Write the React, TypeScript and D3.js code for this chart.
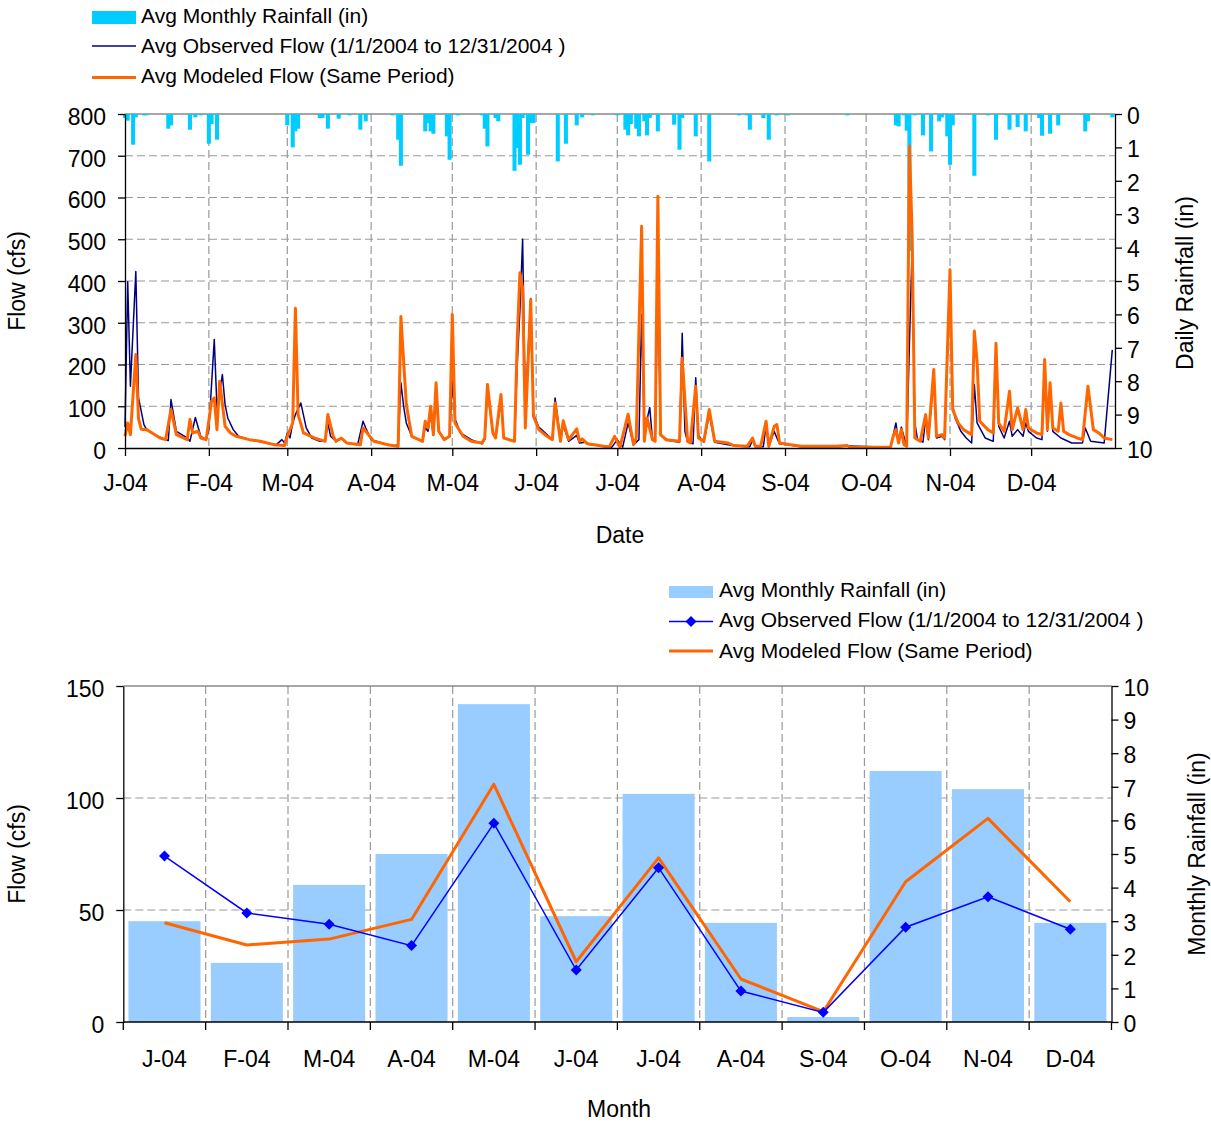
import { useEffect, useRef } from "react"
import * as d3 from "d3"

// ---- daily series, top chart: [day of 2004 (0 = Jan 1), value] ----
const dailyRain: [number, number][] = [
  [0, 0.12], [1, 0.2], [3, 0.92], [4, 0.1], [7, 0.04], [8, 0.04], [16, 0.44], [17, 0.34], [24, 0.47], [26, 0.1], [28, 0.04],
  [31, 0.89], [32, 0.3], [34, 0.77], [60, 0.34], [62, 1.0], [63, 0.52], [64, 0.44], [72, 0.12], [73, 0.12], [75, 0.44],
  [79, 0.14], [83, 0.04], [87, 0.47], [89, 0.22], [99, 0.04], [101, 0.77], [102, 1.55], [111, 0.52], [112, 0.27], [113, 0.52],
  [114, 0.59], [119, 0.67], [120, 1.37], [123, 0.04], [132, 0.04], [133, 0.44], [134, 0.97], [137, 0.12], [138, 0.22],
  [144, 1.7], [145, 1.02], [146, 1.52], [147, 0.12], [149, 1.22], [150, 0.27], [151, 0.27], [160, 1.42], [163, 0.89],
  [167, 0.34], [169, 0.1], [173, 0.04], [182, 0.04], [185, 0.47], [186, 0.64], [187, 0.3], [189, 0.44], [190, 0.67],
  [192, 0.22], [193, 0.64], [194, 0.12], [197, 0.52], [203, 0.32], [205, 1.07], [206, 0.12], [211, 0.67], [216, 1.42],
  [227, 0.04], [230, 0.04], [231, 0.47], [236, 0.12], [238, 0.77], [241, 0.04], [245, 0.04], [267, 0.04], [285, 0.34],
  [286, 0.37], [288, 0.04], [289, 0.5], [290, 4.1], [292, 0.04], [295, 0.64], [298, 1.12], [301, 0.22], [302, 0.1],
  [304, 0.67], [305, 1.52], [306, 0.34], [314, 1.85], [319, 0.04], [322, 0.77], [326, 0.04], [327, 0.47], [330, 0.39],
  [333, 0.52], [338, 0.12], [339, 0.65], [342, 0.59], [345, 0.34], [355, 0.52], [356, 0.22], [365, 0.1],
]

const dailyObserved: [number, number][] = [
  [0, 50], [1, 398], [2, 148], [4, 423], [5, 120], [7, 56], [8, 44], [12, 28], [15, 20], [16, 18], [17, 116], [19, 40],
  [23, 24], [24, 16], [26, 73], [28, 28], [30, 20], [31, 44], [33, 260], [34, 96], [36, 176], [37, 104], [38, 72], [40, 44],
  [42, 28], [46, 20], [51, 14], [56, 8], [58, 20], [59, 12], [60, 36], [61, 24], [62, 60], [63, 80], [65, 108], [67, 48],
  [69, 24], [72, 16], [74, 16], [75, 60], [76, 28], [78, 16], [80, 22], [82, 12], [86, 8], [88, 64], [89, 48], [91, 20],
  [96, 10], [100, 5], [101, 10], [102, 156], [103, 100], [104, 60], [106, 28], [110, 16], [111, 50], [112, 40], [113, 80],
  [114, 30], [115, 130], [116, 40], [118, 20], [120, 28], [121, 160], [122, 70], [124, 36], [128, 20], [132, 10], [133, 20],
  [134, 140], [136, 36], [137, 24], [139, 113], [140, 24], [144, 16], [145, 200], [146, 330], [147, 500], [148, 96],
  [150, 358], [151, 80], [153, 50], [156, 32], [158, 20], [159, 120], [161, 20], [162, 55], [164, 16], [167, 30], [168, 12],
  [170, 14], [172, 8], [178, 4], [180, 2], [182, 20], [184, 2], [186, 60], [188, 8], [190, 20], [191, 320], [192, 40],
  [194, 97], [195, 20], [196, 16], [197, 400], [198, 30], [201, 18], [205, 14], [206, 275], [207, 40], [208, 14], [210, 10],
  [211, 168], [212, 30], [214, 14], [216, 80], [218, 14], [223, 8], [226, 5], [231, 3], [232, 20], [233, 3], [236, 3],
  [237, 55], [238, 3], [240, 40], [241, 24], [242, 10], [247, 6], [250, 3], [264, 3], [268, 5], [283, 2], [284, 30],
  [285, 60], [286, 12], [287, 50], [289, 4], [290, 250], [291, 480], [292, 60], [293, 20], [295, 14], [296, 70], [297, 20],
  [299, 170], [300, 24], [302, 28], [303, 20], [305, 400], [306, 100], [307, 70], [309, 40], [311, 24], [313, 12],
  [314, 152], [315, 60], [318, 24], [321, 16], [322, 240], [323, 52], [325, 24], [327, 64], [328, 28], [330, 44], [332, 28],
  [333, 60], [334, 40], [337, 24], [339, 20], [340, 204], [341, 40], [342, 152], [343, 40], [346, 24], [350, 12], [354, 12],
  [355, 48], [357, 16], [362, 12], [365, 235],
]

const dailyModeled: [number, number][] = [
  [0, 28], [1, 60], [2, 32], [4, 224], [5, 70], [6, 45], [8, 44], [10, 36], [13, 24], [15, 20], [17, 92], [19, 32], [23, 20],
  [24, 68], [25, 36], [27, 40], [28, 24], [30, 20], [32, 112], [33, 120], [34, 44], [35, 160], [37, 52], [39, 36], [41, 28],
  [46, 20], [50, 16], [55, 8], [59, 6], [60, 28], [62, 60], [63, 335], [64, 80], [66, 36], [70, 24], [74, 16], [75, 80],
  [77, 28], [78, 16], [80, 24], [82, 12], [87, 8], [88, 48], [89, 40], [92, 16], [97, 8], [101, 4], [102, 315], [104, 104],
  [106, 28], [110, 16], [111, 64], [112, 48], [113, 100], [114, 32], [115, 156], [116, 40], [118, 20], [120, 28], [121, 320],
  [122, 60], [125, 28], [128, 16], [132, 12], [133, 24], [134, 152], [136, 36], [137, 24], [139, 128], [140, 24], [144, 16],
  [145, 256], [146, 420], [147, 383], [148, 48], [150, 355], [151, 76], [153, 44], [156, 28], [158, 20], [159, 108],
  [161, 16], [162, 65], [164, 20], [167, 46], [168, 16], [169, 22], [171, 10], [177, 4], [179, 2], [181, 28], [183, 2],
  [186, 81], [188, 8], [189, 24], [191, 531], [192, 16], [193, 72], [195, 20], [196, 16], [197, 603], [198, 32], [200, 20],
  [205, 16], [206, 215], [208, 16], [209, 12], [211, 148], [212, 24], [214, 16], [216, 92], [218, 16], [223, 12], [225, 6],
  [230, 4], [232, 24], [233, 4], [235, 4], [237, 64], [238, 4], [240, 52], [241, 56], [242, 12], [246, 8], [250, 4],
  [263, 4], [267, 6], [268, 2], [283, 2], [284, 28], [285, 44], [286, 12], [287, 44], [288, 8], [289, 4], [290, 723],
  [291, 511], [292, 24], [294, 16], [296, 80], [297, 24], [299, 188], [300, 28], [302, 32], [303, 24], [305, 427], [306, 92],
  [308, 60], [310, 44], [313, 32], [314, 280], [315, 208], [316, 64], [319, 44], [321, 36], [322, 251], [323, 60], [325, 40],
  [327, 136], [328, 44], [330, 96], [332, 44], [333, 92], [334, 48], [337, 36], [339, 32], [340, 212], [341, 44], [342, 156],
  [343, 48], [345, 40], [346, 108], [347, 40], [349, 32], [352, 24], [354, 20], [356, 148], [358, 44], [360, 36], [362, 24],
  [365, 20],
]

// ---- monthly series, bottom chart ----
const months = ["J-04", "F-04", "M-04", "A-04", "M-04", "J-04", "J-04", "A-04", "S-04", "O-04", "N-04", "D-04"]
const monthlyRain = [3.0, 1.76, 4.08, 5.0, 9.46, 3.15, 6.79, 2.95, 0.15, 7.47, 6.93, 2.95]
const monthlyObserved = [74.1, 48.7, 43.6, 34.1, 88.7, 23.2, 68.9, 13.8, 4.3, 42.3, 55.9, 41.4]
const monthlyModeled = [44.3, 34.4, 37, 45.8, 106.1, 26.9, 73.3, 19.2, 4.6, 62.6, 90.9, 53.7]

const dailyFlowTicks = [0, 100, 200, 300, 400, 500, 600, 700, 800]
const dailyRainTicks = [0, 1, 2, 3, 4, 5, 6, 7, 8, 9, 10]
const monthlyFlowTicks = [0, 50, 100, 150]
const monthlyRainTicks = [0, 1, 2, 3, 4, 5, 6, 7, 8, 9, 10]

const FONT = "'Liberation Sans', Arial, Helvetica, sans-serif"
const TICK_SIZE = 23
const LEGEND_SIZE = 21
const GRID = "#999"
const ORANGE = "#FF6600"

function styleAxis(g: any, dy: string) {
  g.select(".domain").attr("stroke", "#000").attr("stroke-width", 1.3)
  g.selectAll(".tick line").attr("stroke", "#000").attr("stroke-width", 1.3)
  g.selectAll("text").attr("font-size", TICK_SIZE).attr("font-family", FONT).attr("fill", "#000").attr("dy", dy)
}

function drawTop(svg: any) {
  const L = 125, R = 1115, T = 114, B = 448
  const t0 = new Date(Date.UTC(2004, 0, 1))
  const t1 = new Date(Date.UTC(2005, 0, 1))
  const day = (i: number) => d3.utcDay.offset(t0, i)
  const x = d3.scaleUtc().domain([t0, t1]).range([L, R])
  const yFlow = d3.scaleLinear().domain([0, 800]).range([B, T])
  const yRain = d3.scaleLinear().domain([0, 10]).range([T, B])
  const monthStarts = d3.utcMonth.range(t0, t1)

  const g = svg.append("g")

  // grid
  g.selectAll(".hg").data(dailyFlowTicks.filter((v) => v > 0 && v < 800)).join("line")
    .attr("x1", L).attr("x2", R).attr("y1", (d: number) => yFlow(d)).attr("y2", (d: number) => yFlow(d))
    .attr("stroke", GRID).attr("stroke-width", 1.2).attr("stroke-dasharray", "8,4")
  g.selectAll(".vg").data(monthStarts.slice(1)).join("line")
    .attr("x1", (d: Date) => x(d)).attr("x2", (d: Date) => x(d)).attr("y1", T).attr("y2", B)
    .attr("stroke", GRID).attr("stroke-width", 1.2).attr("stroke-dasharray", "8,4")
  g.append("line").attr("x1", L).attr("x2", R).attr("y1", T).attr("y2", T).attr("stroke", "#888").attr("stroke-width", 1.3)

  // rainfall columns hanging from the top
  const dw = x(day(1)) - x(day(0))
  g.selectAll(".rain").data(dailyRain).join("rect")
    .attr("x", (d: [number, number]) => x(day(d[0])) - dw * 0.75)
    .attr("width", dw * 1.5)
    .attr("y", T)
    .attr("height", (d: [number, number]) => yRain(d[1]) - T)
    .attr("fill", "#00CCFF")

  const line = d3.line<[number, number]>().x((d) => x(day(d[0]))).y((d) => yFlow(d[1]))
  g.append("path").attr("d", line(dailyObserved)).attr("fill", "none").attr("stroke", "#000080")
    .attr("stroke-width", 1.5).attr("stroke-linejoin", "round")
  g.append("path").attr("d", line(dailyModeled)).attr("fill", "none").attr("stroke", ORANGE)
    .attr("stroke-width", 3).attr("stroke-linejoin", "round")

  // axes
  const left = g.append("g").attr("transform", `translate(${L},0)`)
    .call(d3.axisLeft(yFlow).tickValues(dailyFlowTicks).tickSize(7).tickSizeOuter(0).tickPadding(12))
  styleAxis(left, "0.45em")
  const right = g.append("g").attr("transform", `translate(${R},0)`)
    .call(d3.axisRight(yRain).tickValues(dailyRainTicks).tickSize(7).tickSizeOuter(0).tickPadding(5))
  styleAxis(right, "0.4em")
  const bottom = g.append("g").attr("transform", `translate(0,${B})`)
    .call(d3.axisBottom(x).tickValues(monthStarts).tickSize(8).tickSizeOuter(0).tickPadding(19)
      .tickFormat((d: any) => d3.utcFormat("%b")(d).charAt(0) + "-04"))
  styleAxis(bottom, "0.71em")

  // titles
  g.append("text").attr("transform", `translate(25,${(T + B) / 2}) rotate(-90)`).attr("text-anchor", "middle")
    .attr("font-size", TICK_SIZE).attr("font-family", FONT).text("Flow (cfs)")
  g.append("text").attr("transform", `translate(1193,${(T + B) / 2 + 2}) rotate(-90)`).attr("text-anchor", "middle")
    .attr("font-size", TICK_SIZE).attr("font-family", FONT).text("Daily Rainfall (in)")
  g.append("text").attr("x", 620).attr("y", 543).attr("text-anchor", "middle")
    .attr("font-size", TICK_SIZE).attr("font-family", FONT).text("Date")

  // legend
  const lg = g.append("g").attr("font-family", FONT).attr("font-size", LEGEND_SIZE)
  lg.append("rect").attr("x", 92).attr("y", 11).attr("width", 44).attr("height", 13).attr("fill", "#00CCFF")
  lg.append("line").attr("x1", 92).attr("x2", 136).attr("y1", 46).attr("y2", 46).attr("stroke", "#000080").attr("stroke-width", 1.5)
  lg.append("line").attr("x1", 92).attr("x2", 136).attr("y1", 77.5).attr("y2", 77.5).attr("stroke", ORANGE).attr("stroke-width", 3)
  lg.append("text").attr("x", 141).attr("y", 23).text("Avg Monthly Rainfall (in)")
  lg.append("text").attr("x", 141).attr("y", 53).text("Avg Observed Flow (1/1/2004 to 12/31/2004 )")
  lg.append("text").attr("x", 141).attr("y", 83).text("Avg Modeled Flow (Same Period)")
}

function drawBottom(svg: any) {
  const L = 123.3, R = 1111.5, T = 686, B = 1022
  const idx = months.map((_, i) => i)
  const x = d3.scaleBand<number>().domain(idx).range([L, R]).paddingInner(0.125).paddingOuter(0.0625)
  const cx = (i: number) => (x(i) as number) + x.bandwidth() / 2
  const yFlow = d3.scaleLinear().domain([0, 150]).range([B, T])
  const yRain = d3.scaleLinear().domain([0, 10]).range([B, T])

  const g = svg.append("g")
  const bounds = d3.range(13).map((i) => L + i * x.step())

  g.selectAll(".hg").data([50, 100]).join("line")
    .attr("x1", L).attr("x2", R).attr("y1", (d: number) => yFlow(d)).attr("y2", (d: number) => yFlow(d))
    .attr("stroke", GRID).attr("stroke-width", 1.2).attr("stroke-dasharray", "8,4")
  g.selectAll(".vg").data(bounds.slice(1, 12)).join("line")
    .attr("x1", (d: number) => d).attr("x2", (d: number) => d).attr("y1", T).attr("y2", B)
    .attr("stroke", GRID).attr("stroke-width", 1.2).attr("stroke-dasharray", "8,4")
  g.append("line").attr("x1", L).attr("x2", R).attr("y1", T).attr("y2", T).attr("stroke", "#888").attr("stroke-width", 1.3)

  g.selectAll(".bar").data(monthlyRain).join("rect")
    .attr("x", (_: number, i: number) => x(i) as number)
    .attr("width", x.bandwidth())
    .attr("y", (d: number) => yRain(d))
    .attr("height", (d: number) => B - yRain(d))
    .attr("fill", "#99CCFF")

  const path = d3.line<number>().x((_, i) => cx(i)).y((d) => yFlow(d))
  g.append("path").attr("d", path(monthlyModeled)).attr("fill", "none").attr("stroke", ORANGE)
    .attr("stroke-width", 3).attr("stroke-linejoin", "round")
  g.append("path").attr("d", path(monthlyObserved)).attr("fill", "none").attr("stroke", "#0000FF").attr("stroke-width", 1.5)
  const diamond = "M0,-5.5L5.5,0L0,5.5L-5.5,0Z"
  g.selectAll(".mk").data(monthlyObserved).join("path")
    .attr("d", diamond)
    .attr("transform", (d: number, i: number) => `translate(${cx(i)},${yFlow(d)})`)
    .attr("fill", "#0000FF")

  const left = g.append("g").attr("transform", `translate(${L},0)`)
    .call(d3.axisLeft(yFlow).tickValues(monthlyFlowTicks).tickSize(7).tickSizeOuter(0).tickPadding(12))
  styleAxis(left, "0.45em")
  const right = g.append("g").attr("transform", `translate(${R},0)`)
    .call(d3.axisRight(yRain).tickValues(monthlyRainTicks).tickSize(7).tickSizeOuter(0).tickPadding(5))
  styleAxis(right, "0.4em")

  // category axis: ticks at boundaries, labels at centres
  g.append("line").attr("x1", L).attr("x2", R).attr("y1", B).attr("y2", B).attr("stroke", "#000").attr("stroke-width", 1.3)
  g.selectAll(".ct").data(bounds).join("line")
    .attr("x1", (d: number) => d).attr("x2", (d: number) => d).attr("y1", B).attr("y2", B + 8)
    .attr("stroke", "#000").attr("stroke-width", 1.3)
  g.selectAll(".cl").data(months).join("text")
    .attr("x", (_: string, i: number) => cx(i)).attr("y", 1067).attr("text-anchor", "middle")
    .attr("font-size", TICK_SIZE).attr("font-family", FONT).text((d: string) => d)

  g.append("text").attr("transform", `translate(25,${(T + B) / 2}) rotate(-90)`).attr("text-anchor", "middle")
    .attr("font-size", TICK_SIZE).attr("font-family", FONT).text("Flow (cfs)")
  g.append("text").attr("transform", `translate(1205,${(T + B) / 2}) rotate(-90)`).attr("text-anchor", "middle")
    .attr("font-size", TICK_SIZE).attr("font-family", FONT).text("Monthly Rainfall (in)")
  g.append("text").attr("x", 619).attr("y", 1117).attr("text-anchor", "middle")
    .attr("font-size", TICK_SIZE).attr("font-family", FONT).text("Month")

  const lg = g.append("g").attr("font-family", FONT).attr("font-size", LEGEND_SIZE)
  lg.append("rect").attr("x", 669).attr("y", 586).attr("width", 44).attr("height", 12).attr("fill", "#99CCFF")
  lg.append("line").attr("x1", 669).attr("x2", 713).attr("y1", 621.5).attr("y2", 621.5).attr("stroke", "#0000FF").attr("stroke-width", 1.5)
  lg.append("path").attr("d", diamond).attr("transform", "translate(691,621.5)").attr("fill", "#0000FF")
  lg.append("line").attr("x1", 669).attr("x2", 713).attr("y1", 651).attr("y2", 651).attr("stroke", ORANGE).attr("stroke-width", 3)
  lg.append("text").attr("x", 719).attr("y", 597).text("Avg Monthly Rainfall (in)")
  lg.append("text").attr("x", 719).attr("y", 627).text("Avg Observed Flow (1/1/2004 to 12/31/2004 )")
  lg.append("text").attr("x", 719).attr("y", 658).text("Avg Modeled Flow (Same Period)")
}

export default function App() {
  const ref = useRef<SVGSVGElement>(null)

  useEffect(() => {
    if (!ref.current) return
    const svg = d3.select(ref.current)
    svg.selectAll("*").remove()
    drawTop(svg)
    drawBottom(svg)
  }, [])

  return (
    <svg
      ref={ref}
      width={1211}
      height={1122}
      style={{ position: "absolute", left: 0, top: 0, background: "#fff" }}
    />
  )
}
